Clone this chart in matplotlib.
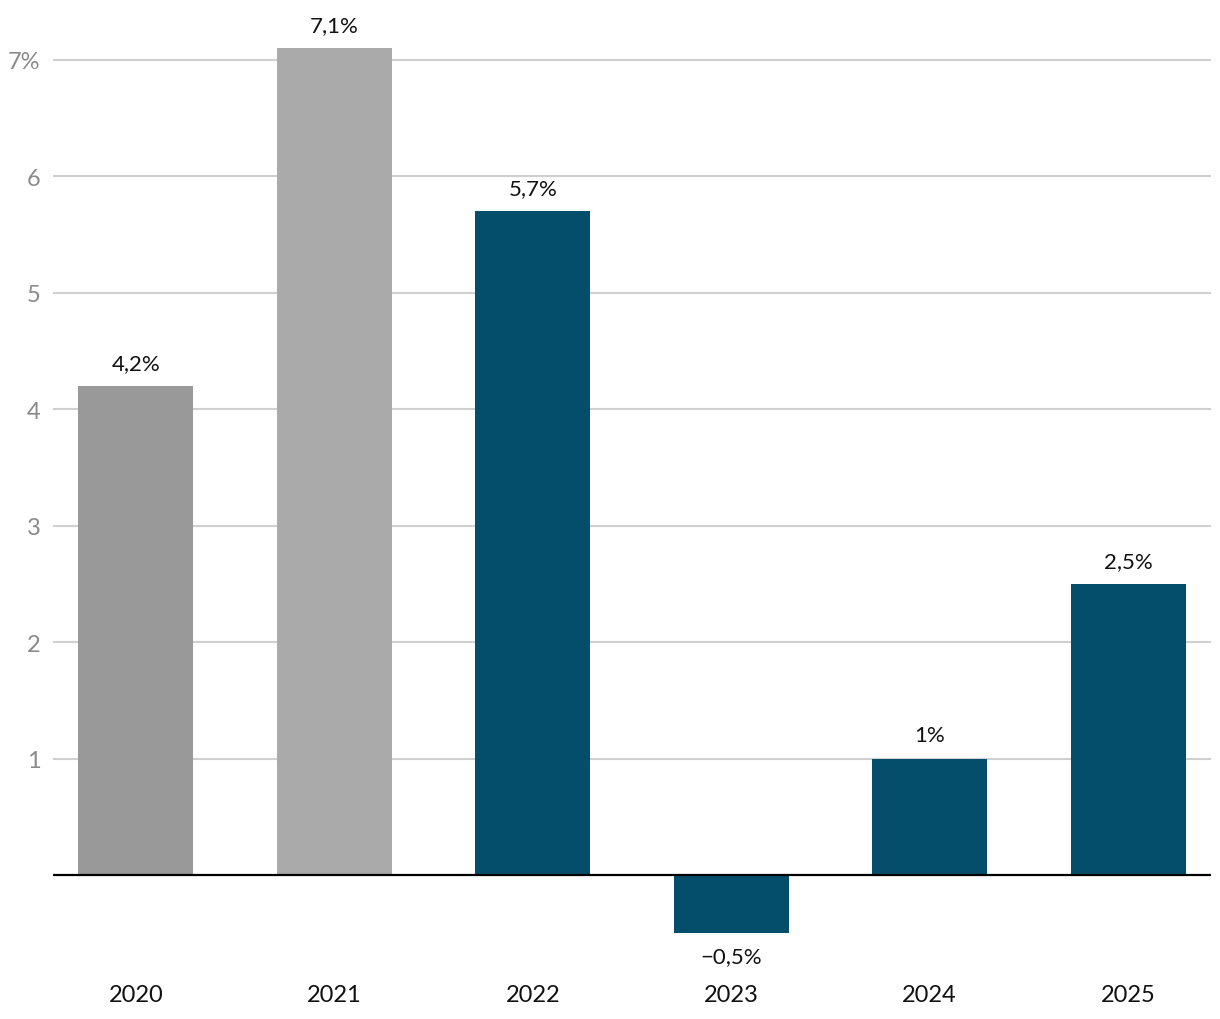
import matplotlib
matplotlib.use("Agg")
import matplotlib.pyplot as plt

years = ["2020", "2021", "2022", "2023", "2024", "2025"]
values = [4.2, 7.1, 5.7, -0.5, 1.0, 2.5]
labels = ["4,2%", "7,1%", "5,7%", "\u22120,5%", "1%", "2,5%"]
colors = ["#999999", "#aaaaaa", "#044e6b", "#044e6b", "#044e6b", "#044e6b"]
yticks = [1, 2, 3, 4, 5, 6, 7]
ytick_labels = ["1", "2", "3", "4", "5", "6", "7%"]

plt.rcParams['font.family'] = ['Lato', 'DejaVu Sans']

W, H = 1220, 1020
fig = plt.figure(figsize=(W / 100, H / 100), dpi=100)
left_px, right_px = 53, 1211
top_px, bot_px = 26, 980.8
ax = fig.add_axes([left_px / W, 1 - bot_px / H, (right_px - left_px) / W, (bot_px - top_px) / H])

x = list(range(len(years)))
ax.bar(x, values, width=0.58, color=colors, zorder=2)
ax.set_xlim(-0.418, 5.418)
ax.set_ylim(-0.9, 7.3)

for yv in yticks:
    ax.axhline(yv, color="#d0d0d0", linewidth=1.5, zorder=1)
ax.axhline(0, color="black", linewidth=1.6, zorder=3)

for xi, v, lab in zip(x, values, labels):
    if v >= 0:
        ax.annotate(lab, (xi, v), xytext=(0, 9.5), textcoords="offset points",
                    ha="center", va="bottom", fontsize=16, color="#111111")
    else:
        ax.annotate(lab, (xi, v), xytext=(0, -9.5), textcoords="offset points",
                    ha="center", va="top", fontsize=16, color="#111111")

ax.set_xticks(x)
ax.set_xticklabels(years, fontsize=17, color="#111111")
ax.set_yticks(yticks)
ax.set_yticklabels(ytick_labels, fontsize=17, color="#8a8a8a")
ax.tick_params(axis="both", length=0)
ax.tick_params(axis="y", pad=9)
ax.tick_params(axis="x", pad=3)
for s in ax.spines.values():
    s.set_visible(False)

fig.savefig("out.png", dpi=100)
